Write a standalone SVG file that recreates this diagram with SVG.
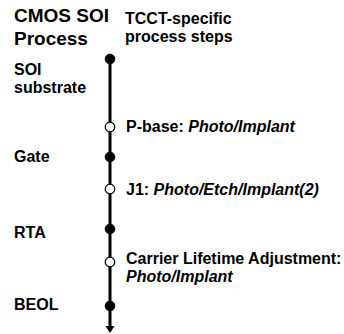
<svg xmlns="http://www.w3.org/2000/svg" width="344" height="334" viewBox="0 0 344 334">
<style>
text{font-family:"Liberation Sans",Arial,sans-serif;font-weight:bold;fill:#000}
.t{font-size:19px}
.l{font-size:16px}
.i{font-style:italic}
.f{fill:#000;stroke:#000;stroke-width:1}
.o{fill:#fff;stroke:#000;stroke-width:1.2}
</style>
<rect width="344" height="334" fill="#fff"/>
<g id="connectors">
<line x1="110" y1="59" x2="110" y2="326" stroke="#000" stroke-width="3"/>
<path d="M105.5,326 L114.5,326 L110,333 Z" fill="#000"/>
</g>
<g id="header">
<text class="t" x="14" y="22">CMOS SOI</text>
<text class="t" x="14" y="45">Process</text>
<text class="l" x="125" y="24">TCCT-specific</text>
<text class="l" x="125" y="42">process steps</text>
</g>
<g id="soi"><circle class="f" cx="110" cy="59" r="4.8"/><text class="l" x="14" y="75">SOI</text><text class="l" x="14" y="93">substrate</text></g>
<g id="pbase"><circle class="o" cx="110" cy="127" r="4.8"/><text class="l" x="126" y="132">P-base: <tspan class="i">Photo/Implant</tspan></text></g>
<g id="gate"><circle class="f" cx="110" cy="157" r="4.8"/><text class="l" x="14" y="162">Gate</text></g>
<g id="j1"><circle class="o" cx="110" cy="189" r="4.8"/><text class="l" x="126" y="195">J1: <tspan class="i">Photo/Etch/Implant(2)</tspan></text></g>
<g id="rta"><circle class="f" cx="110" cy="229" r="4.8"/><text class="l" x="14" y="238">RTA</text></g>
<g id="carrier"><circle class="o" cx="110" cy="262" r="4.8"/><text class="l" x="126" y="264">Carrier Lifetime Adjustment:</text><text class="l i" x="126" y="282">Photo/Implant</text></g>
<g id="beol"><circle class="f" cx="110" cy="306" r="4.8"/><text class="l" x="14" y="310">BEOL</text></g>
</svg>
